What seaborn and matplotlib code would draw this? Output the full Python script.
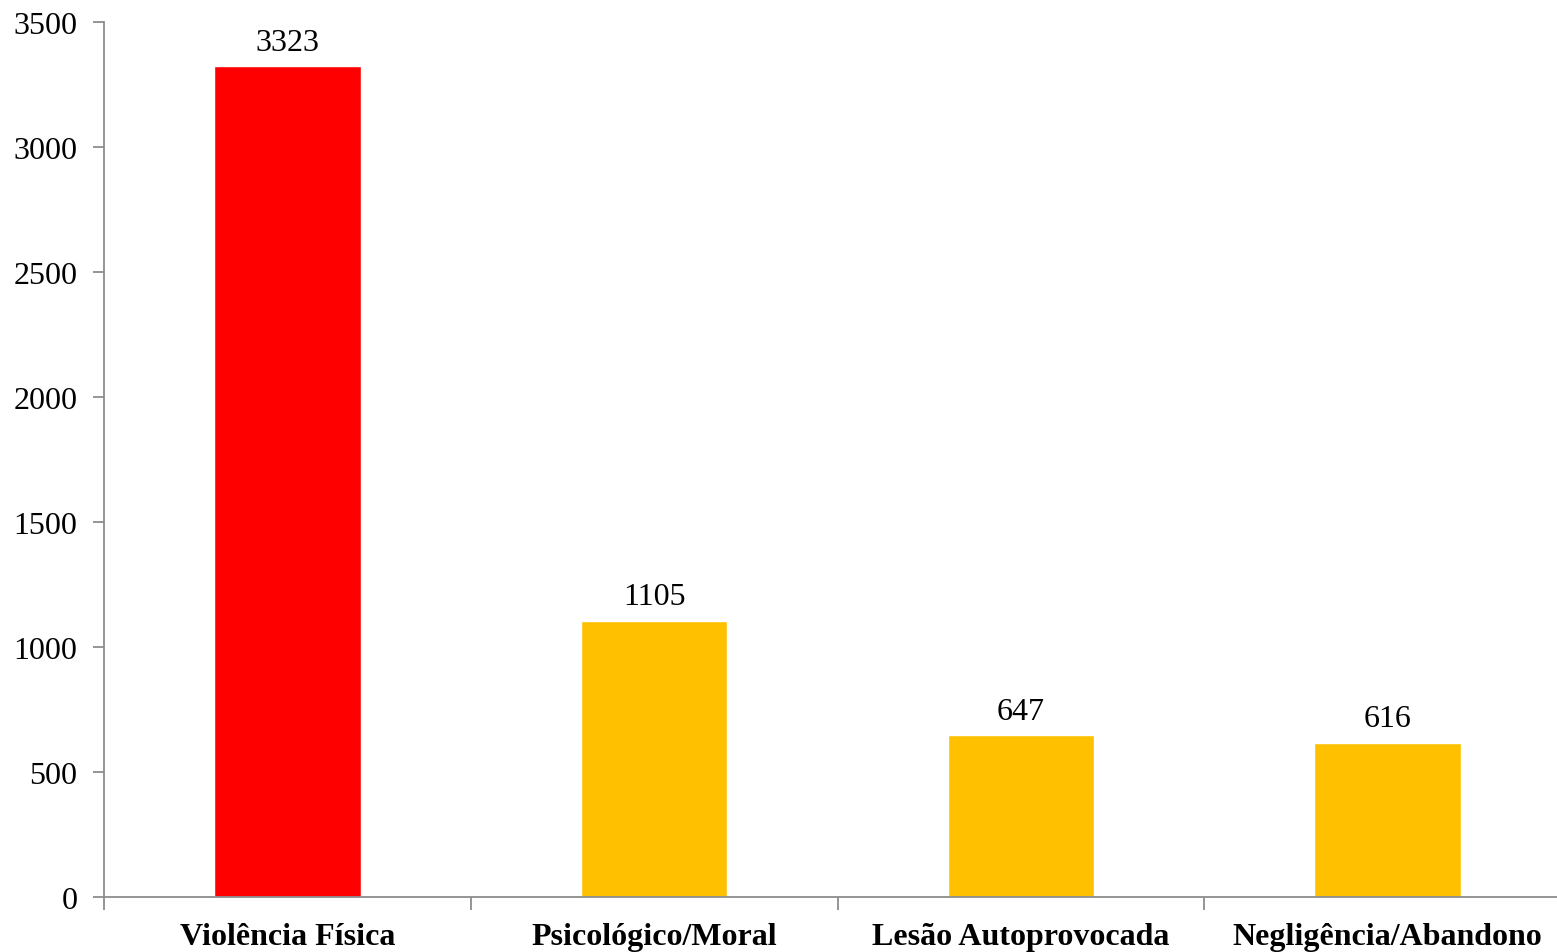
import matplotlib
matplotlib.use("Agg")
import matplotlib.pyplot as plt
import seaborn as sns
import pandas as pd
from matplotlib.ticker import FixedLocator, NullFormatter

categories = ["Violência Física", "Psicológico/Moral", "Lesão Autoprovocada", "Negligência/Abandono"]
values = [3323, 1105, 647, 616]
colors = ["#FF0000", "#FFC000", "#FFC000", "#FFC000"]
yticks = [0, 500, 1000, 1500, 2000, 2500, 3000, 3500]

sns.set_theme(style="white")
plt.rcParams["font.family"] = ["Liberation Serif", "DejaVu Serif"]
plt.rcParams["text.color"] = "black"
plt.rcParams["xtick.labelcolor"] = "black"
plt.rcParams["ytick.labelcolor"] = "black"

df = pd.DataFrame({"cat": categories, "val": values})

fig = plt.figure(figsize=(15.57, 9.53), dpi=100)
ax = fig.add_axes([104/1557, 1-898/953, (1571-104)/1557, (898-23)/953])

sns.barplot(data=df, x="cat", y="val", hue="cat", palette=dict(zip(categories, colors)),
            width=0.4, dodge=False, legend=False, ax=ax, saturation=1)

ax.set_xlim(-0.5, 3.5)
ax.set_ylim(0, 3500)
ax.set_yticks(yticks)
ax.set_yticklabels([str(t) for t in yticks], fontsize=23, color="black")
ax.set_xlabel("")
ax.set_ylabel("")

for i, v in enumerate(values):
    ax.annotate(str(v), (i, v), xytext=(0, 7), textcoords="offset points",
                ha="center", va="bottom", fontsize=23, color="black")

ax.set_xticks(range(len(categories)))
ax.set_xticklabels(categories, fontsize=23, fontweight="bold", color="black")
ax.tick_params(axis="x", which="major", length=0, pad=18)
ax.xaxis.set_minor_locator(FixedLocator([-0.5, 0.5, 1.5, 2.5]))
ax.xaxis.set_minor_formatter(NullFormatter())
ax.tick_params(axis="x", which="minor", direction="out", length=9, width=1.3, color="#8c8c8c", bottom=True)
ax.tick_params(axis="y", direction="out", length=8, width=1.3, color="#8c8c8c", left=True, pad=11)

for s in ["top", "right"]:
    ax.spines[s].set_visible(False)
for s in ["left", "bottom"]:
    ax.spines[s].set_color("#8c8c8c")
    ax.spines[s].set_linewidth(1.3)

fig.savefig("out.png", dpi=100)
